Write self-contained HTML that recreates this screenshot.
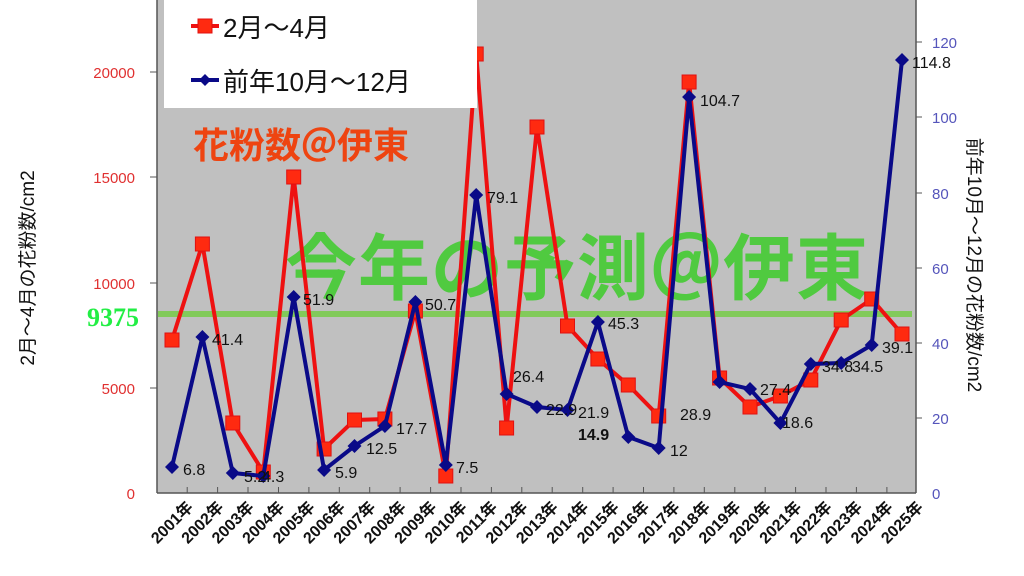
<!DOCTYPE html>
<html><head><meta charset="utf-8"><style>
html,body{margin:0;padding:0;background:#fff;width:1024px;height:576px;overflow:hidden}
svg{display:block;font-family:"Liberation Sans","Noto Sans CJK JP",sans-serif}
</style></head><body>
<svg width="1024" height="576" viewBox="0 0 1024 576">
<rect x="157" y="0" width="759" height="493" fill="#c0c0c0"/>
<line x1="157" y1="0" x2="157" y2="493" stroke="#555" stroke-width="1.5"/>
<line x1="916" y1="0" x2="916" y2="493" stroke="#555" stroke-width="1.5"/>
<line x1="157" y1="493" x2="916" y2="493" stroke="#555" stroke-width="1.5"/>
<g stroke="#555" stroke-width="1">
<line x1="150" y1="72" x2="157" y2="72"/><line x1="150" y1="177" x2="157" y2="177"/><line x1="150" y1="283" x2="157" y2="283"/><line x1="150" y1="388" x2="157" y2="388"/>
<line x1="916" y1="42" x2="922" y2="42"/><line x1="916" y1="117" x2="922" y2="117"/><line x1="916" y1="193" x2="922" y2="193"/><line x1="916" y1="268" x2="922" y2="268"/><line x1="916" y1="343" x2="922" y2="343"/><line x1="916" y1="418" x2="922" y2="418"/>
<path d="M187.2 493v-6M217.6 493v-6M248 493v-6M278.5 493v-6M308.9 493v-6M339.3 493v-6M369.7 493v-6M400.1 493v-6M430.6 493v-6M461 493v-6M491.4 493v-6M521.8 493v-6M552.2 493v-6M582.7 493v-6M613.1 493v-6M643.5 493v-6M673.9 493v-6M704.3 493v-6M734.8 493v-6M765.2 493v-6M795.6 493v-6M826 493v-6M856.4 493v-6M886.9 493v-6"/>
</g>
<g font-size="15" fill="#e03030" text-anchor="end">
<text x="135" y="78">20000</text><text x="135" y="183">15000</text><text x="135" y="289">10000</text><text x="135" y="394">5000</text><text x="135" y="499">0</text>
</g>
<g font-size="15" fill="#5555bb">
<text x="932" y="48">120</text><text x="932" y="123">100</text><text x="932" y="199">80</text><text x="932" y="274">60</text><text x="932" y="349">40</text><text x="932" y="424">20</text><text x="932" y="499">0</text>
</g>
<text transform="translate(34,268) rotate(-90)" font-size="19" text-anchor="middle" fill="#111">2月～4月の花粉数/cm2</text>
<text transform="translate(968,265) rotate(90)" font-size="19" text-anchor="middle" fill="#111">前年10月～12月の花粉数/cm2</text>
<line x1="158" y1="314" x2="912" y2="314" stroke="#7ccc50" stroke-width="6" opacity="0.9"/>
<text x="87" y="326" font-size="26" font-weight="bold" fill="#22ee44" font-family="Liberation Serif,serif">9375</text>
<text x="285" y="294" font-size="72" letter-spacing="1" font-weight="bold" fill="#44cc33" opacity="0.9" font-family="'Noto Sans CJK JP',sans-serif">今年の予測＠伊東</text>
<polyline fill="none" stroke="#ee1111" stroke-width="4" points="172,340 202.4,244 232.8,423 263.3,472 293.7,177 324.1,449 354.5,420 384.9,419 415.4,311 445.8,476 476.2,54 506.6,428 537,127 567.5,326 597.9,359 628.3,385 658.7,416 689.1,82 719.6,378 750,407 780.4,396 810.8,380 841.2,320 871.7,299 902,334"/>
<g fill="#ff2a10" stroke="#e01010" stroke-width="1">
<rect x="165" y="333" width="14" height="14"/><rect x="195.4" y="237" width="14" height="14"/><rect x="225.8" y="416" width="14" height="14"/><rect x="256.3" y="465" width="14" height="14"/><rect x="286.7" y="170" width="14" height="14"/><rect x="317.1" y="442" width="14" height="14"/><rect x="347.5" y="413" width="14" height="14"/><rect x="377.9" y="412" width="14" height="14"/><rect x="408.4" y="304" width="14" height="14"/><rect x="438.8" y="469" width="14" height="14"/><rect x="469.2" y="47" width="14" height="14"/><rect x="499.6" y="421" width="14" height="14"/><rect x="530" y="120" width="14" height="14"/><rect x="560.5" y="319" width="14" height="14"/><rect x="590.9" y="352" width="14" height="14"/><rect x="621.3" y="378" width="14" height="14"/><rect x="651.7" y="409" width="14" height="14"/><rect x="682.1" y="75" width="14" height="14"/><rect x="712.6" y="371" width="14" height="14"/><rect x="743" y="400" width="14" height="14"/><rect x="773.4" y="389" width="14" height="14"/><rect x="803.8" y="373" width="14" height="14"/><rect x="834.2" y="313" width="14" height="14"/><rect x="864.7" y="292" width="14" height="14"/><rect x="895" y="327" width="14" height="14"/>
</g>
<polyline fill="none" stroke="#0a0a88" stroke-width="4" points="172,467 202.4,337 232.8,473 263.3,476 293.7,297 324.1,470 354.5,446 384.9,426 415.4,302 445.8,465 476.2,195 506.6,394 537,407 567.5,410 597.9,322 628.3,437 658.7,448 689.1,97 719.6,382 750,389 780.4,423 810.8,364 841.2,363 871.7,345 902,60"/>
<g fill="#0a0a88">
<path d="M172 460l7 7-7 7-7-7z"/><path d="M202.4 330l7 7-7 7-7-7z"/><path d="M232.8 466l7 7-7 7-7-7z"/><path d="M263.3 469l7 7-7 7-7-7z"/><path d="M293.7 290l7 7-7 7-7-7z"/><path d="M324.1 463l7 7-7 7-7-7z"/><path d="M354.5 439l7 7-7 7-7-7z"/><path d="M384.9 419l7 7-7 7-7-7z"/><path d="M415.4 295l7 7-7 7-7-7z"/><path d="M445.8 458l7 7-7 7-7-7z"/><path d="M476.2 188l7 7-7 7-7-7z"/><path d="M506.6 387l7 7-7 7-7-7z"/><path d="M537 400l7 7-7 7-7-7z"/><path d="M567.5 403l7 7-7 7-7-7z"/><path d="M597.9 315l7 7-7 7-7-7z"/><path d="M628.3 430l7 7-7 7-7-7z"/><path d="M658.7 441l7 7-7 7-7-7z"/><path d="M689.1 90l7 7-7 7-7-7z"/><path d="M719.6 375l7 7-7 7-7-7z"/><path d="M750 382l7 7-7 7-7-7z"/><path d="M780.4 416l7 7-7 7-7-7z"/><path d="M810.8 357l7 7-7 7-7-7z"/><path d="M841.2 356l7 7-7 7-7-7z"/><path d="M871.7 338l7 7-7 7-7-7z"/><path d="M902 53l7 7-7 7-7-7z"/>
</g>
<g font-size="16" fill="#111">
<text x="183" y="475">6.8</text><text x="212" y="345">41.4</text><text x="244" y="482">5.2</text><text x="262" y="482">4.3</text><text x="303" y="305">51.9</text><text x="335" y="478">5.9</text><text x="366" y="454">12.5</text><text x="396" y="434">17.7</text><text x="425" y="310">50.7</text><text x="456" y="473">7.5</text><text x="487" y="203">79.1</text><text x="513" y="382">26.4</text><text x="546" y="415">22.9</text><text x="578" y="418">21.9</text><text x="608" y="329">45.3</text><text x="578" y="440" font-weight="bold">14.9</text><text x="670" y="456">12</text><text x="680" y="420">28.9</text><text x="700" y="106">104.7</text><text x="760" y="395">27.4</text><text x="782" y="428">18.6</text><text x="822" y="372">34.8</text><text x="852" y="372">34.5</text><text x="882" y="353">39.1</text><text x="912" y="68">114.8</text>
</g>
<g font-size="16" font-weight="bold" fill="#111" text-anchor="end">
<text transform="translate(194,508) rotate(-45)">2001年</text><text transform="translate(224.4,508) rotate(-45)">2002年</text><text transform="translate(254.8,508) rotate(-45)">2003年</text><text transform="translate(285.3,508) rotate(-45)">2004年</text><text transform="translate(315.7,508) rotate(-45)">2005年</text><text transform="translate(346.1,508) rotate(-45)">2006年</text><text transform="translate(376.5,508) rotate(-45)">2007年</text><text transform="translate(406.9,508) rotate(-45)">2008年</text><text transform="translate(437.4,508) rotate(-45)">2009年</text><text transform="translate(467.8,508) rotate(-45)">2010年</text><text transform="translate(498.2,508) rotate(-45)">2011年</text><text transform="translate(528.6,508) rotate(-45)">2012年</text><text transform="translate(559,508) rotate(-45)">2013年</text><text transform="translate(589.5,508) rotate(-45)">2014年</text><text transform="translate(619.9,508) rotate(-45)">2015年</text><text transform="translate(650.3,508) rotate(-45)">2016年</text><text transform="translate(680.7,508) rotate(-45)">2017年</text><text transform="translate(711.1,508) rotate(-45)">2018年</text><text transform="translate(741.6,508) rotate(-45)">2019年</text><text transform="translate(772,508) rotate(-45)">2020年</text><text transform="translate(802.4,508) rotate(-45)">2021年</text><text transform="translate(832.8,508) rotate(-45)">2022年</text><text transform="translate(863.2,508) rotate(-45)">2023年</text><text transform="translate(893.7,508) rotate(-45)">2024年</text><text transform="translate(924,508) rotate(-45)">2025年</text>
</g>
<rect x="164" y="0" width="313" height="108" fill="#fff"/>
<line x1="191" y1="26" x2="219" y2="26" stroke="#ee1111" stroke-width="4"/>
<rect x="198" y="19" width="14" height="14" fill="#ff2a10" stroke="#e01010"/>
<text x="223" y="37" font-size="26" fill="#111">2月～4月</text>
<line x1="191" y1="80" x2="219" y2="80" stroke="#0a0a88" stroke-width="4"/>
<path d="M205 74l6 6-6 6-6-6z" fill="#0a0a88"/>
<text x="223" y="91" font-size="26" fill="#111">前年10月～12月</text>
<text x="193" y="158" font-size="36" font-weight="bold" fill="#ee4411" font-family="'Noto Sans CJK JP',sans-serif">花粉数＠伊東</text>
</svg>
</body></html>
